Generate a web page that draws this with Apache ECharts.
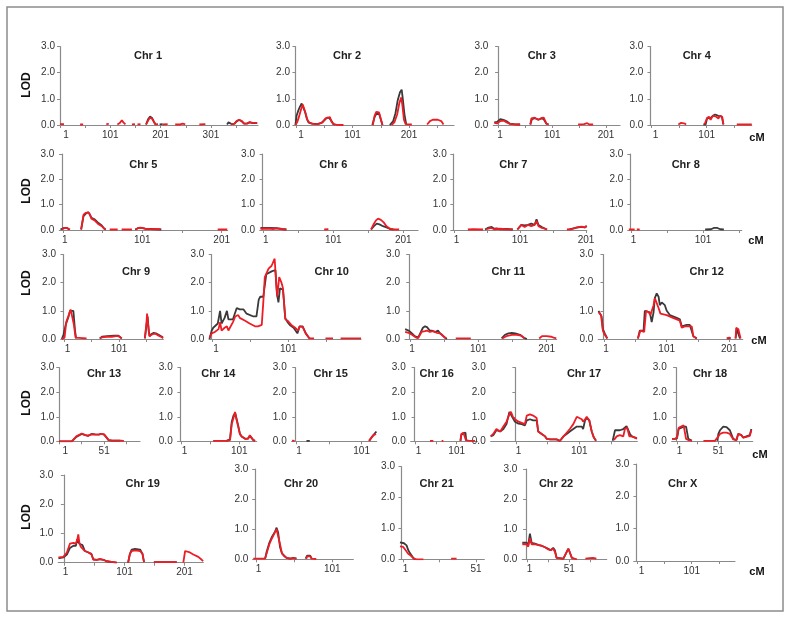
<!DOCTYPE html>
<html><head><meta charset="utf-8">
<script src="https://cdn.jsdelivr.net/npm/echarts@6/dist/echarts.min.js"></script>
<style>html,body{margin:0;padding:0;background:#fff}#c{width:791px;height:618px}</style>
</head><body><div id="c"></div>
<script>
const G = '-';
// ---------- data: [cM, LOD]; '-' = gap ----------
const chr1Black=[[172,0.02],[176,0.22],[180,0.32],[184,0.27],[188,0.12],[191,0.02],G,[199,0.02],[201,0.06],[205,0.03],G,[333,0.02],[336,0.1],[339,0.03],[343,0.03],[348,0.05],[352,0.14],[357,0.19],[362,0.15],[367,0.05],[373,0.06],[378,0.1],[384,0.07],[393,0.07]];
const chr1Red=[[1,0.03],[9,0.03],G,[41,0.02],[47,0.02],G,[93,0.03],[98,0.04],G,[115,0.02],[120,0.08],[124,0.18],[127,0.1],[131,0.02],G,[144,0.02],[150,0.03],G,[155,0.02],[161,0.03],G,[172,0.02],[177,0.2],[180,0.28],[184,0.24],[188,0.1],[191,0.02],[196,0.03],G,[205,0.02],[215,0.03],G,[230,0.02],[240,0.02],[245,0.05],[250,0.02],G,[278,0.02],[290,0.03],G,[341,0.02],[348,0.05],[352,0.15],[357,0.2],[362,0.16],[367,0.05],[373,0.05],[378,0.11],[384,0.08],[393,0.08]];
const chr2Black=[[0,0.0],[2,0.35],[5,0.55],[8,0.7],[11,0.82],[14,0.8],[17,0.5],[20,0.25],[23,0.1],[29,0.05],[38,0.03],[46,0.08],[52,0.2],[56,0.28],[60,0.26],[64,0.15],[67,0.03],[70,0.01],G,[136,0.0],[140,0.3],[143,0.42],[148,0.43],[151,0.4],[154,0.0],G,[167,0.0],[173,0.15],[177,0.45],[181,0.95],[185,1.25],[188,1.35],[190,1.0],[193,0.4],[196,0.03]];
const chr2Red=[[0,0.0],[3,0.1],[6,0.3],[10,0.6],[13,0.78],[15,0.75],[18,0.45],[21,0.2],[25,0.08],[32,0.04],[40,0.03],[48,0.1],[53,0.25],[56,0.3],[61,0.3],[64,0.12],[68,0.03],[72,0.01],[85,0.0],G,[137,0.0],[140,0.35],[143,0.5],[148,0.48],[151,0.45],[154,0.0],G,[170,0.0],[175,0.1],[180,0.4],[184,0.85],[187,1.05],[189,0.8],[192,0.2],[195,0.03],[206,0.02],G,[233,0.02],[238,0.15],[243,0.2],[252,0.2],[258,0.15],[262,0.02]];
const chr3Black=[[-7,0.1],[-2,0.12],[4,0.22],[10,0.2],[16,0.14],[22,0.05],[30,0.03],[41,0.02],G,[60,0.02],[63,0.22],[69,0.26],[75,0.2],[81,0.25],[85,0.22],[90,0.05],[94,0.02]];
const chr3Red=[[-7,0.08],[-2,0.06],[4,0.15],[10,0.17],[16,0.1],[22,0.04],[30,0.02],[41,0.02],G,[60,0.02],[62,0.25],[68,0.28],[75,0.2],[81,0.27],[85,0.28],[90,0.05],[94,0.02],G,[149,0.02],[160,0.03],[166,0.07],[170,0.02],[177,0.02]];
const chr4Black=[[95,0.02],[99,0.02],[102,0.28],[107,0.25],[112,0.35],[116,0.4],[122,0.35],[128,0.33],[130,0.3],[131,0.02]];
const chr4Red=[[50,0.02],[55,0.08],[58,0.11],[62,0.05],[64,0.02],G,[97,0.02],[101,0.24],[105,0.32],[108,0.2],[112,0.35],[117,0.33],[122,0.25],[125,0.35],[129,0.3],[131,0.02],G,[155,0.02],[182,0.02]];
const chr5Black=[[-2,0.02],[2,0.08],[6,0.08],[9,0.02],G,[24,0.02],[27,0.55],[30,0.65],[33,0.7],[35,0.62],[37,0.48],[41,0.42],[45,0.3],[50,0.18],[53,0.06],[55,0.02],G,[92,0.02],[96,0.08],[100,0.08],[105,0.05],[125,0.02]];
const chr5Red=[[0,0.02],[3,0.08],[7,0.07],[10,0.02],G,[24,0.02],[27,0.6],[30,0.68],[33,0.7],[35,0.6],[37,0.45],[41,0.38],[45,0.25],[50,0.15],[53,0.05],[55,0.02],G,[60,0.02],[70,0.02],G,[75,0.02],[88,0.02],G,[93,0.02],[96,0.08],[99,0.09],[104,0.05],[110,0.04],[124,0.03],G,[196,0.02],[208,0.02]];
const chr6Black=[[-3,0.08],[10,0.08],[20,0.07],[28,0.04],[34,0.02],G,[155,0.02],[159,0.15],[163,0.25],[167,0.22],[172,0.15],[177,0.1],[182,0.04],[187,0.02]];
const chr6Red=[[-3,0.05],[8,0.06],[15,0.04],[20,0.06],[28,0.03],[34,0.02],G,[88,0.02],[94,0.03],G,[155,0.02],[159,0.25],[162,0.38],[165,0.45],[169,0.4],[173,0.3],[177,0.15],[182,0.05],[187,0.02],[195,0.02]];
const chr7Black=[[48,0.02],[52,0.08],[58,0.12],[62,0.05],[66,0.06],[70,0.03],[80,0.04],[90,0.02],G,[97,0.02],[103,0.2],[108,0.18],[113,0.2],[118,0.25],[123,0.2],[126,0.42],[129,0.2],[134,0.12],[139,0.05],[142,0.02],G,[176,0.02],[185,0.08],[194,0.12],[199,0.1],[202,0.15]];
const chr7Red=[[22,0.02],[30,0.03],[45,0.02],G,[50,0.03],[57,0.08],[62,0.03],[70,0.05],[80,0.03],[90,0.02],G,[97,0.02],[103,0.2],[108,0.12],[113,0.2],[118,0.15],[123,0.2],[126,0.35],[129,0.15],[134,0.08],[139,0.05],[142,0.02],G,[172,0.02],[179,0.03],[187,0.1],[194,0.13],[199,0.1],[202,0.17]];
const chr8Black=[[104,0.02],[112,0.03],[116,0.08],[121,0.08],[125,0.03],[130,0.02]];
const chr8Red=[[-2,0.02],[6,0.02],G,[9,0.02],[13,0.02]];
const chr9Black=[[-3,0.0],[0,0.15],[4,0.5],[9,0.78],[12,1.0],[15,1.05],[18,1.0],[21,0.3],[23,0.02],G,[66,0.02],[70,0.08],[80,0.1],[92,0.12],[100,0.12],[106,0.02],G,[148,0.02],[151,0.5],[153,0.8],[155,0.3],[157,0.1],[160,0.18],[164,0.22],[168,0.2],[173,0.15],[179,0.08],[181,0.05]];
const chr9Red=[[-3,0.0],[2,0.05],[5,0.6],[9,0.82],[13,1.05],[16,1.02],[19,0.5],[22,0.05],[25,0.02],[42,0.02],G,[66,0.02],[70,0.06],[78,0.08],[88,0.08],[95,0.1],[100,0.1],[106,0.02],G,[148,0.02],[151,0.6],[152,0.9],[154,0.5],[156,0.1],[160,0.15],[164,0.18],[168,0.18],[173,0.12],[179,0.06],[181,0.02]];
const chr10Black=[[-3,0.0],[0,0.3],[2,0.4],[8,0.55],[11,1.0],[13,0.55],[17,0.75],[20,1.0],[22,0.7],[24,0.65],[28,0.7],[33,1.1],[37,1.05],[42,1.05],[46,0.9],[55,0.8],[59,0.8],[62,1.4],[64,1.5],[68,1.5],[72,2.3],[79,2.4],[84,2.45],[86,1.6],[88,1.3],[90,1.8],[94,1.75],[97,0.75],[100,0.6],[103,0.5],[108,0.4],[113,0.2],[116,0.45],[120,0.45],[124,0.2],[129,0.02]];
const chr10Red=[[-3,0.05],[0,0.2],[4,0.25],[9,0.35],[11,0.6],[13,0.3],[17,0.4],[20,0.45],[22,0.3],[24,0.3],[28,0.6],[31,0.8],[35,0.85],[37,0.75],[44,0.65],[50,0.55],[57,0.45],[61,0.45],[66,0.5],[68,1.3],[70,2.2],[75,2.5],[79,2.6],[83,2.85],[85,2.0],[86.5,1.5],[89,2.2],[92,2.0],[94,1.8],[97,0.7],[100,0.65],[105,0.5],[110,0.4],[114,0.3],[116,0.45],[120,0.42],[124,0.2],[129,0.02],[135,0.02],G,[150,0.02],[160,0.02],G,[170,0.02],[197,0.02]];
const chr11Black=[[-6,0.35],[-1,0.3],[4,0.2],[8,0.1],[13,0.05],[16,0.2],[20,0.4],[23,0.45],[26,0.42],[30,0.3],[33,0.3],[38,0.25],[42,0.3],[45,0.2],[48,0.15],[52,0.05],[55,0.0],G,[135,0.02],[140,0.15],[145,0.2],[150,0.22],[155,0.2],[162,0.15],[167,0.05],[172,0.0]];
const chr11Red=[[-6,0.25],[-1,0.22],[4,0.15],[10,0.05],[13,0.03],[18,0.25],[23,0.28],[26,0.3],[30,0.25],[35,0.28],[40,0.22],[45,0.2],[50,0.1],[54,0.02],G,[68,0.02],[90,0.02],G,[136,0.02],[142,0.1],[150,0.15],[157,0.15],[164,0.12],[169,0.02],G,[190,0.02],[194,0.1],[201,0.1],[208,0.08],[211,0.05],[215,0.02]];
const chr12Black=[[-8,1.0],[-5.5,0.9],[-3,0.8],[-1,0.35],[2,0.2],[6,0.02],G,[55,0.02],[58,0.3],[61,0.35],[64,0.3],[66,1.0],[69,1.0],[74,0.95],[77,0.6],[80,0.95],[82,1.45],[85,1.62],[88,1.5],[90,1.2],[93,1.3],[98,1.2],[101,1.0],[106,0.85],[117,0.75],[122,0.7],[125,0.45],[127,0.45],[133,0.5],[138,0.5],[141,0.45],[143.5,0.1],[149,0.02],G,[197,0.02],[203,0.02],G,[211,0.02],[213,0.35],[215.5,0.3],[218,0.02]];
const chr12Red=[[-8,0.95],[-4,0.85],[-1,0.3],[2,0.15],[6,0.02],G,[55,0.02],[59,0.3],[62,0.35],[65,0.25],[68,1.0],[72,0.95],[75,0.85],[80,1.2],[82,1.45],[85,1.5],[88,1.1],[91,0.9],[101,0.85],[111,0.75],[122,0.65],[125,0.4],[130,0.45],[141,0.45],[143.5,0.1],[149,0.02],G,[197,0.02],[201,0.05],[203,0.02],G,[211,0.02],[212,0.4],[215.5,0.35],[219,0.02]];
const chr13Black=[[1,0.0],[15,0.0],[16,0.05],[20,0.18],[26,0.3],[30,0.25],[33,0.22],[37,0.3],[41,0.28],[45,0.27],[48,0.3],[51,0.27],[53,0.2],[56,0.05],[60,0.03],[69,0.03]];
const chr13Red=[[1,0.0],[15,0.0],[16,0.05],[20,0.2],[26,0.32],[30,0.25],[33,0.23],[37,0.28],[41,0.27],[45,0.28],[48,0.3],[51,0.28],[53,0.2],[56,0.05],[60,0.03],[69,0.03],[73,0.02]];
const chr14Black=[[79,0.02],[85,0.08],[88,0.8],[91,1.05],[94,1.15],[96,0.95],[99,0.65],[102,0.3],[105,0.2],[111,0.1],[116,0.12],[119,0.22],[122,0.18],[125,0.05],[128,0.02]];
const chr14Red=[[56,0.02],[79,0.02],[85,0.05],[88,0.7],[91,0.95],[93.6,1.2],[96,0.9],[99,0.6],[102,0.3],[105,0.2],[111,0.1],[116,0.1],[119,0.25],[122,0.2],[125,0.05],[128,0.02]];
const chr15Black=[[17,0.02],[22,0.02],G,[113,0.02],[116,0.15],[119,0.25],[121,0.3],[123.5,0.4]];
const chr15Red=[[-5,0.03],[-1,0.02],G,[112,0.02],[115,0.1],[119,0.25],[121,0.22],[123,0.3]];
const chr16Black=[[110,0.02],[112,0.25],[117,0.33],[120,0.38],[122,0.35],[124,0.02]];
const chr16Red=[[37,0.02],[45,0.02],G,[65,0.02],[69,0.02],G,[110,0.02],[112,0.3],[115,0.33],[117,0.35],[119,0.4],[121,0.3],[123,0.05],[125,0.02],[129,0.03],[145,0.02]];
const chr17Black=[[-39,0.2],[-35,0.25],[-30,0.45],[-24,0.4],[-19,0.5],[-14,0.7],[-9.5,1.2],[-7,1.15],[-4,0.95],[-0.6,0.8],[5,0.72],[10,0.7],[15,0.65],[18,0.85],[23,0.9],[28,0.85],[33.6,0.85],[36,0.4],[41.6,0.3],[47,0.2],[49.5,0.1],[55,0.08],[65,0.08],[70.5,0.02],[73,0.02],[76,0.2],[81,0.3],[86,0.4],[91.5,0.5],[97,0.6],[99,0.65],[105,0.6],[107,0.5],[110,0.85],[112.7,0.95],[116.8,0.85],[120.6,0.4],[124,0.15],[127.4,0.02],G,[153.7,0.02],[157.4,0.45],[160,0.5],[165,0.45],[170.5,0.5],[175.6,0.62],[178.5,0.55],[181,0.3],[184,0.2],[189,0.15],[192,0.12]];
const chr17Red=[[-39,0.2],[-35,0.3],[-30,0.5],[-24,0.4],[-19,0.6],[-14,0.8],[-9.5,1.1],[-7,1.2],[-4,1.0],[-0.6,0.9],[5,0.8],[10,0.75],[15,0.7],[18,1.05],[23,1.1],[28,1.05],[33.6,0.95],[36,0.4],[41.6,0.3],[47,0.2],[49.5,0.1],[55,0.08],[65,0.08],[70.5,0.02],[73,0.02],[76,0.2],[81,0.35],[86,0.5],[91.5,0.7],[97,1.0],[99.4,1.08],[104.8,0.9],[107,0.8],[110,0.9],[112.7,1.0],[116.8,0.85],[120.6,0.4],[124,0.15],[127.4,0.02],G,[155.8,0.05],[160,0.2],[165,0.25],[170.5,0.2],[173,0.5],[176.6,0.55],[180,0.2],[183.8,0.2],[189,0.15],[192,0.1]];
const chr18Black=[[-5,0.1],[-1.5,0.1],[1,0.12],[3,0.5],[5,0.58],[9,0.6],[12,0.6],[14.7,0.1],[17.6,0.05],[19,0.02],G,[50,0.02],[51,0.3],[53,0.45],[57,0.6],[61,0.58],[65,0.45],[69,0.1],[73,0.05],[75,0.3],[79,0.25],[81,0.15],[85,0.2],[89,0.25],[91,0.5]];
const chr18Red=[[-5,0.1],[-1.5,0.1],[1,0.15],[3,0.55],[5,0.62],[9,0.65],[10.7,0.6],[12,0.1],[14.7,0.05],[19,0.02],G,[33,0.02],[47,0.02],[51,0.2],[53,0.3],[57,0.35],[61,0.35],[65,0.3],[69,0.08],[73,0.05],[75,0.3],[79,0.25],[81,0.15],[85,0.18],[89,0.22],[91,0.45]];
const chr19Black=[[-9,0.15],[-1,0.18],[5,0.28],[10,0.5],[16,0.58],[20,0.58],[22.4,0.8],[24,0.85],[25.7,0.65],[28,0.6],[31,0.6],[35,0.4],[41,0.35],[46,0.3],[49,0.12],[55,0.1],[60,0.12],[66,0.1],[71,0.05],[82,0.02],[88,0.0],G,[107,0.0],[110,0.3],[113,0.45],[118.5,0.47],[127,0.45],[131,0.3],[133.5,0.02],G,[150,0.02],[188,0.02]];
const chr19Red=[[-9,0.18],[-1,0.2],[5,0.35],[10,0.65],[16,0.68],[20,0.65],[22.4,0.8],[24,0.97],[25.7,0.7],[28,0.55],[31,0.55],[35,0.4],[41,0.35],[46,0.28],[49,0.1],[55,0.1],[60,0.12],[66,0.1],[71,0.05],[82,0.02],[88,0.0],G,[107,0.0],[110,0.3],[113,0.4],[118.5,0.42],[127,0.4],[131,0.3],[133.5,0.02],G,[150,0.02],[188,0.02],G,[199,0.0],[202,0.4],[204.7,0.45],[210,0.35],[215.7,0.28],[224,0.2],[229.7,0.1],[232,0.05]];
const chr20Black=[[13,0.02],[15,0.25],[18.5,0.55],[22,0.75],[26,0.92],[28,1.05],[30,0.9],[32.5,0.4],[35,0.2],[38,0.12],[41,0.05],[46,0.02],[50,0.05],[54,0.02],G,[66,0.02],[68,0.12],[70,0.18],[72,0.12],[74,0.02]];
const chr20Red=[[-2.5,0.02],[12.8,0.02],[15,0.2],[18.5,0.5],[22,0.7],[26,0.9],[28,1.0],[30,0.95],[32.5,0.5],[35,0.2],[38,0.1],[41,0.05],[46,0.02],[50,0.04],[54,0.02],G,[67,0.02],[68,0.1],[70,0.15],[72,0.1],[74,0.02],[80,0.01]];
const chr21Black=[[-1,0.55],[1.7,0.52],[3.5,0.45],[4.6,0.3],[5.8,0.2],[7,0.15],[8,0.05],[9.2,0.0]];
const chr21Red=[[-1,0.42],[1.2,0.4],[2.4,0.35],[3.5,0.25],[4.6,0.18],[6.3,0.12],[7.6,0.08],[8.5,0.02],[10.4,0.0],[15,0.0],G,[34,0.02],[37.7,0.02]];
const chr22Black=[[-4.5,0.55],[0.6,0.55],[2.5,0.48],[4.5,0.85],[6.5,0.55],[10.5,0.52],[14.4,0.48],[18.4,0.45],[22.3,0.4],[26.2,0.35],[29,0.3],[32,0.38],[34,0.3],[36,0.05],[38,0.02],[44,0.02],[48,0.25],[50,0.35],[52,0.3],[54,0.05],[56,0.02]];
const chr22Red=[[-4.5,0.5],[0.6,0.5],[2.5,0.42],[4.5,0.7],[6.5,0.5],[10.5,0.5],[14.4,0.47],[18.4,0.45],[22.3,0.4],[26.2,0.33],[29,0.3],[32,0.35],[34,0.25],[36,0.05],[38,0.02],[44,0.02],[48,0.25],[50,0.35],[52,0.3],[54,0.05],[56,0.02],[60,0.0],G,[70,0.02],[75,0.04],[79,0.05],[83,0.02]];
const chrXBlack=[];
const chrXRed=[];

const chromosomeNames=['Chr 1','Chr 2','Chr 3','Chr 4','Chr 5','Chr 6','Chr 7','Chr 8','Chr 9','Chr 10','Chr 11','Chr 12','Chr 13','Chr 14','Chr 15','Chr 16','Chr 17','Chr 18','Chr 19','Chr 20','Chr 21','Chr 22','Chr X'];
const blackSeries=[chr1Black,chr2Black,chr3Black,chr4Black,chr5Black,chr6Black,chr7Black,chr8Black,chr9Black,chr10Black,chr11Black,chr12Black,chr13Black,chr14Black,chr15Black,chr16Black,chr17Black,chr18Black,chr19Black,chr20Black,chr21Black,chr22Black,chrXBlack];
const redSeries=[chr1Red,chr2Red,chr3Red,chr4Red,chr5Red,chr6Red,chr7Red,chr8Red,chr9Red,chr10Red,chr11Red,chr12Red,chr13Red,chr14Red,chr15Red,chr16Red,chr17Red,chr18Red,chr19Red,chr20Red,chr21Red,chr22Red,chrXRed];
// x-axis extents (cM) per panel
const xMin=[1,-0.8,-8.9,-3.9,-3.5,-3.7,-2.5,-2.8,-4.5,-3.2,-6.2,-8.3,1,-4.7,-5.5,-9.3,-39,-5.4,-9.3,-2.5,-1,-4.5,-3.9];
const xMax=[394.6,280.6,227,181.8,208.6,222,202,154.8,181.5,196.9,215.6,222.4,91,130.8,124,150.4,192.6,92.6,232.3,128.5,56.7,95.2,180];
// tick step / label step (cM)
const tickStep=[50,50,50,50,50,50,50,50,50,50,50,50,25,50,50,50,50,25,50,50,25,25,50];
const labelStep=[100,100,100,100,100,100,100,100,100,100,100,100,50,100,100,100,100,50,100,100,50,50,100];
const yLabel='LOD';
const xUnit='cM';

// ---------- layout (pixels) ----------
const box=[
 [60,258,46.5,125],[295,454,46.5,125],[493.3,620,46.5,125],[648.3,751.7,46.5,125],
 [59.3,227.7,154,230],[260,418,154,230],[451.7,586.7,154,230],[628.3,741.7,154,230],
 [61,163.3,254.5,339],[209.3,361,254.5,339],[405,556.7,254.5,339],[598.3,742.7,254.5,339],
 [59.3,140,367.7,441.3],[177.7,256.7,367.7,441.3],[291.7,376.7,367.7,441.3],[410.7,477.3,367.7,441.3],[490.7,637.3,367.7,441.3],[671.7,752.7,367.7,441.3],
 [58.3,203.3,475,562.7],[253.3,353.3,469,559.3],[400,484.3,466.7,559.3],[522.3,606.7,469,559.3],[634.3,735,464,561]
];
// horizontal nudge (px) of the first "1" tick label
const oneShift=[6,5,1.5,4.5,2,2.5,2.5,2.5,3.5,3.5,2,2,6,3.5,3,3.5,2.5,2.5,1,2.5,2.5,2.5,4.5];
const titlePos=[[148,56],[347,56],[541.7,56],[696.7,56],[143.3,165],[333.3,165],[513.3,165],[685.7,165],
 [136,272.3],[331.7,272.3],[508.3,272.3],[706.7,272.3],[104,373.7],[218.3,373.7],[330.7,373.7],[436.7,373.7],[584,373.7],[710,373.7],
 [142.7,484.3],[301,484.3],[436.7,484.3],[556,484.3],[682.7,484.3]];
const lodPos=[85,191,283,403,517];
const cmPos=[[757,138],[756,241],[759,341],[760,455],[757,572]];

const FONT='"Liberation Sans", Arial, Helvetica, sans-serif';
const AX='#8a8a8a';
const fix=d=>d.map(p=>p===G?[G,G]:p);
function steps(min,max,step){const v=[];for(let x=1;x<=max+1e-6;x+=step){if(x>=min-1e-6)v.push(x);}return v;}

const grid=[],xAxis=[],yAxis=[],series=[],graphic=[];
box.forEach((b,i)=>{
  grid.push({left:b[0],top:b[2],width:b[1]-b[0],height:b[3]-b[2],containLabel:false});
  xAxis.push({type:'value',gridIndex:i,min:xMin[i],max:xMax[i],
    axisLine:{show:true,onZero:false,lineStyle:{color:AX,width:1.2}},
    axisTick:{show:true,inside:false,length:3,lineStyle:{color:AX},customValues:steps(xMin[i],xMax[i],tickStep[i])},
    axisLabel:{show:true,margin:5,fontSize:10,color:'#333',fontFamily:FONT,customValues:steps(xMin[i],xMax[i],labelStep[i]),
      formatter:v=>{const r=Math.round(v);return r===1?'{o|1}':String(r);},
      rich:{o:{fontSize:10,color:'#333',fontFamily:FONT,padding:[0,0,0,2*oneShift[i]]}}},
    splitLine:{show:false}});
  yAxis.push({type:'value',gridIndex:i,min:0,max:3,interval:1,
    axisLine:{show:true,lineStyle:{color:AX,width:1.2}},
    axisTick:{show:true,inside:false,length:3,lineStyle:{color:AX}},
    axisLabel:{margin:5,fontSize:10,color:'#333',fontFamily:FONT,formatter:v=>v.toFixed(1)},
    splitLine:{show:false}});
  series.push({type:'line',xAxisIndex:i,yAxisIndex:i,data:fix(blackSeries[i]),showSymbol:false,symbol:'none',
    lineStyle:{color:'#3a3a3a',width:1.8},connectNulls:false,clip:true,z:2,silent:true});
  series.push({type:'line',xAxisIndex:i,yAxisIndex:i,data:fix(redSeries[i]),showSymbol:false,symbol:'none',
    lineStyle:{color:'#ee1c25',width:1.8},connectNulls:false,clip:true,z:3,silent:true});
  graphic.push({type:'text',x:titlePos[i][0],y:titlePos[i][1],style:{text:chromosomeNames[i],font:'bold 11px '+FONT,fill:'#222',textAlign:'center',textVerticalAlign:'middle'}});
});
lodPos.forEach(y=>graphic.push({type:'text',x:27,y:y,rotation:Math.PI/2,style:{text:yLabel,font:'bold 12px '+FONT,fill:'#111',textAlign:'center',textVerticalAlign:'middle'}}));
cmPos.forEach(p=>graphic.push({type:'text',x:p[0],y:p[1],style:{text:xUnit,font:'bold 11px '+FONT,fill:'#111',textAlign:'center',textVerticalAlign:'middle'}}));
graphic.push({type:'rect',shape:{x:7,y:7,width:776,height:604},style:{fill:'none',stroke:'#8c8c8c',lineWidth:1.5},z:-1});

const chart=echarts.init(document.getElementById('c'),null,{renderer:'canvas'});
chart.setOption({animation:false,backgroundColor:'#fff',grid,xAxis,yAxis,series,graphic});
</script></body></html>
